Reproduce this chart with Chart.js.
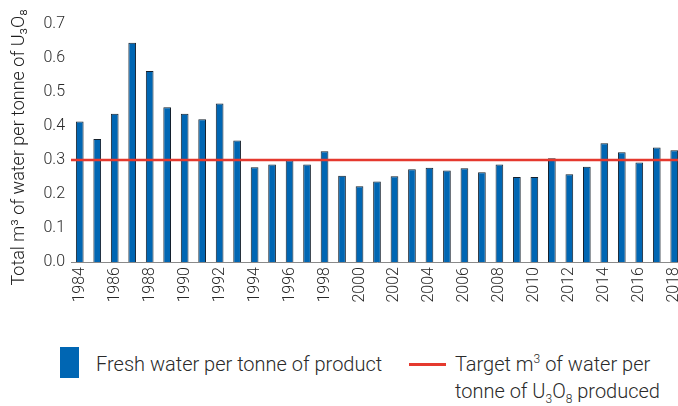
<!DOCTYPE html>
<html>
<head>
<meta charset="utf-8">
<script src="https://cdn.jsdelivr.net/npm/chart.js@4/dist/chart.umd.min.js"></script>
<style>
html,body{margin:0;padding:0;width:678px;height:406px;overflow:hidden;background:#fff;}
#wrap{position:absolute;left:0;top:0;width:683px;height:320px;}
.leg{position:absolute;font-family:Roboto,sans-serif;font-weight:300;font-size:20px;color:#2a2a2a;line-height:27px;white-space:nowrap;}
.leg sup{font-size:12px;line-height:0;vertical-align:0;position:relative;top:-8px;}
.leg sub{font-size:12px;line-height:0;vertical-align:0;position:relative;top:5px;}
</style>
</head>
<body>
<div id="wrap"><canvas id="c" width="683" height="320"></canvas></div>
<div style="position:absolute;left:60px;top:347px;width:19px;height:31px;background:#0066b3"></div>
<div class="leg" style="left:96px;top:351px;">Fresh water per tonne of product</div>
<div style="position:absolute;left:409px;top:363px;width:37px;height:3px;background:#e5392e"></div>
<div class="leg" style="left:455px;top:351px;">Target m<sup>3</sup> of water per<br>tonne of U<sub>3</sub>O<sub>8</sub> produced</div>
<script>
const years = ['1984','1985','1986','1987','1988','1989','1990','1991','1992','1993','1994','1995','1996','1997','1998','1999','2000','2001','2002','2003','2004','2005','2006','2007','2008','2009','2010','2011','2012','2013','2014','2015','2016','2017','2018'];
const freshWater = [0.413,0.362,0.436,0.645,0.562,0.455,0.436,0.420,0.466,0.357,0.279,0.287,0.299,0.287,0.326,0.254,0.223,0.237,0.252,0.273,0.277,0.269,0.276,0.264,0.287,0.250,0.250,0.305,0.258,0.280,0.349,0.323,0.293,0.337,0.329];
const targetValue = [0.3, 0.3];
const yTickValues = [0.0,0.1,0.2,0.3,0.4,0.5,0.6,0.7];

const FONT = 'Roboto';
new Chart(document.getElementById('c'), {
  data: {
    labels: years,
    datasets: [
      {
        type: 'bar',
        label: 'Fresh water per tonne of product',
        data: freshWater,
        backgroundColor: '#0066b3',
        borderColor: '#15202c',
        borderWidth: 1,
        barPercentage: 0.44,
        categoryPercentage: 1.0,
        grouped: false,
        xAxisID: 'x'
      },
      {
        type: 'line',
        label: 'Target',
        data: targetValue.map((v, i) => ({x: i, y: v})),
        borderColor: '#e5392e',
        borderWidth: 2.5,
        pointRadius: 0,
        xAxisID: 'xt',
        order: -1
      }
    ]
  },
  options: {
    responsive: false,
    animation: false,
    events: [],
    layout: {padding: {top: 24, left: 0, right: 0, bottom: 0}},
    plugins: {legend: {display: false}, tooltip: {enabled: false}},
    scales: {
      x: {
        type: 'category',
        offset: true,
        grid: {display: false, drawTicks: false},
        border: {display: true, color: '#8a8a8a', width: 1},
        ticks: {
          autoSkip: false,
          maxRotation: 90,
          minRotation: 90,
          padding: 5,
          color: '#2a2a2a',
          font: {family: FONT, size: 16, weight: 300},
          callback: (v, i) => (i % 2 === 0 ? years[i] : '')
        },
        afterFit: s => { s.paddingLeft = 0; s.paddingRight = 0; s.height = 58; }
      },
      xt: {type: 'linear', min: 0, max: 1, display: false},
      y: {
        min: 0,
        max: 0.7,
        afterBuildTicks: s => { s.ticks = yTickValues.map(v => ({value: v})); },
        grid: {display: false, drawTicks: false},
        border: {display: false},
        ticks: {
          padding: 6,
          color: '#2a2a2a',
          font: {family: FONT, size: 16, weight: 300},
          callback: v => v.toFixed(1)
        },
        title: {
          display: true,
          text: 'Total m³ of water per tonne of U₃O₈  ',
          color: '#1e1e1e',
          font: {family: FONT, size: 18, weight: 300},
          padding: {top: 9, bottom: 0}
        },
        afterFit: s => { s.width = 71; }
      }
    }
  }
});
</script>
</body>
</html>
